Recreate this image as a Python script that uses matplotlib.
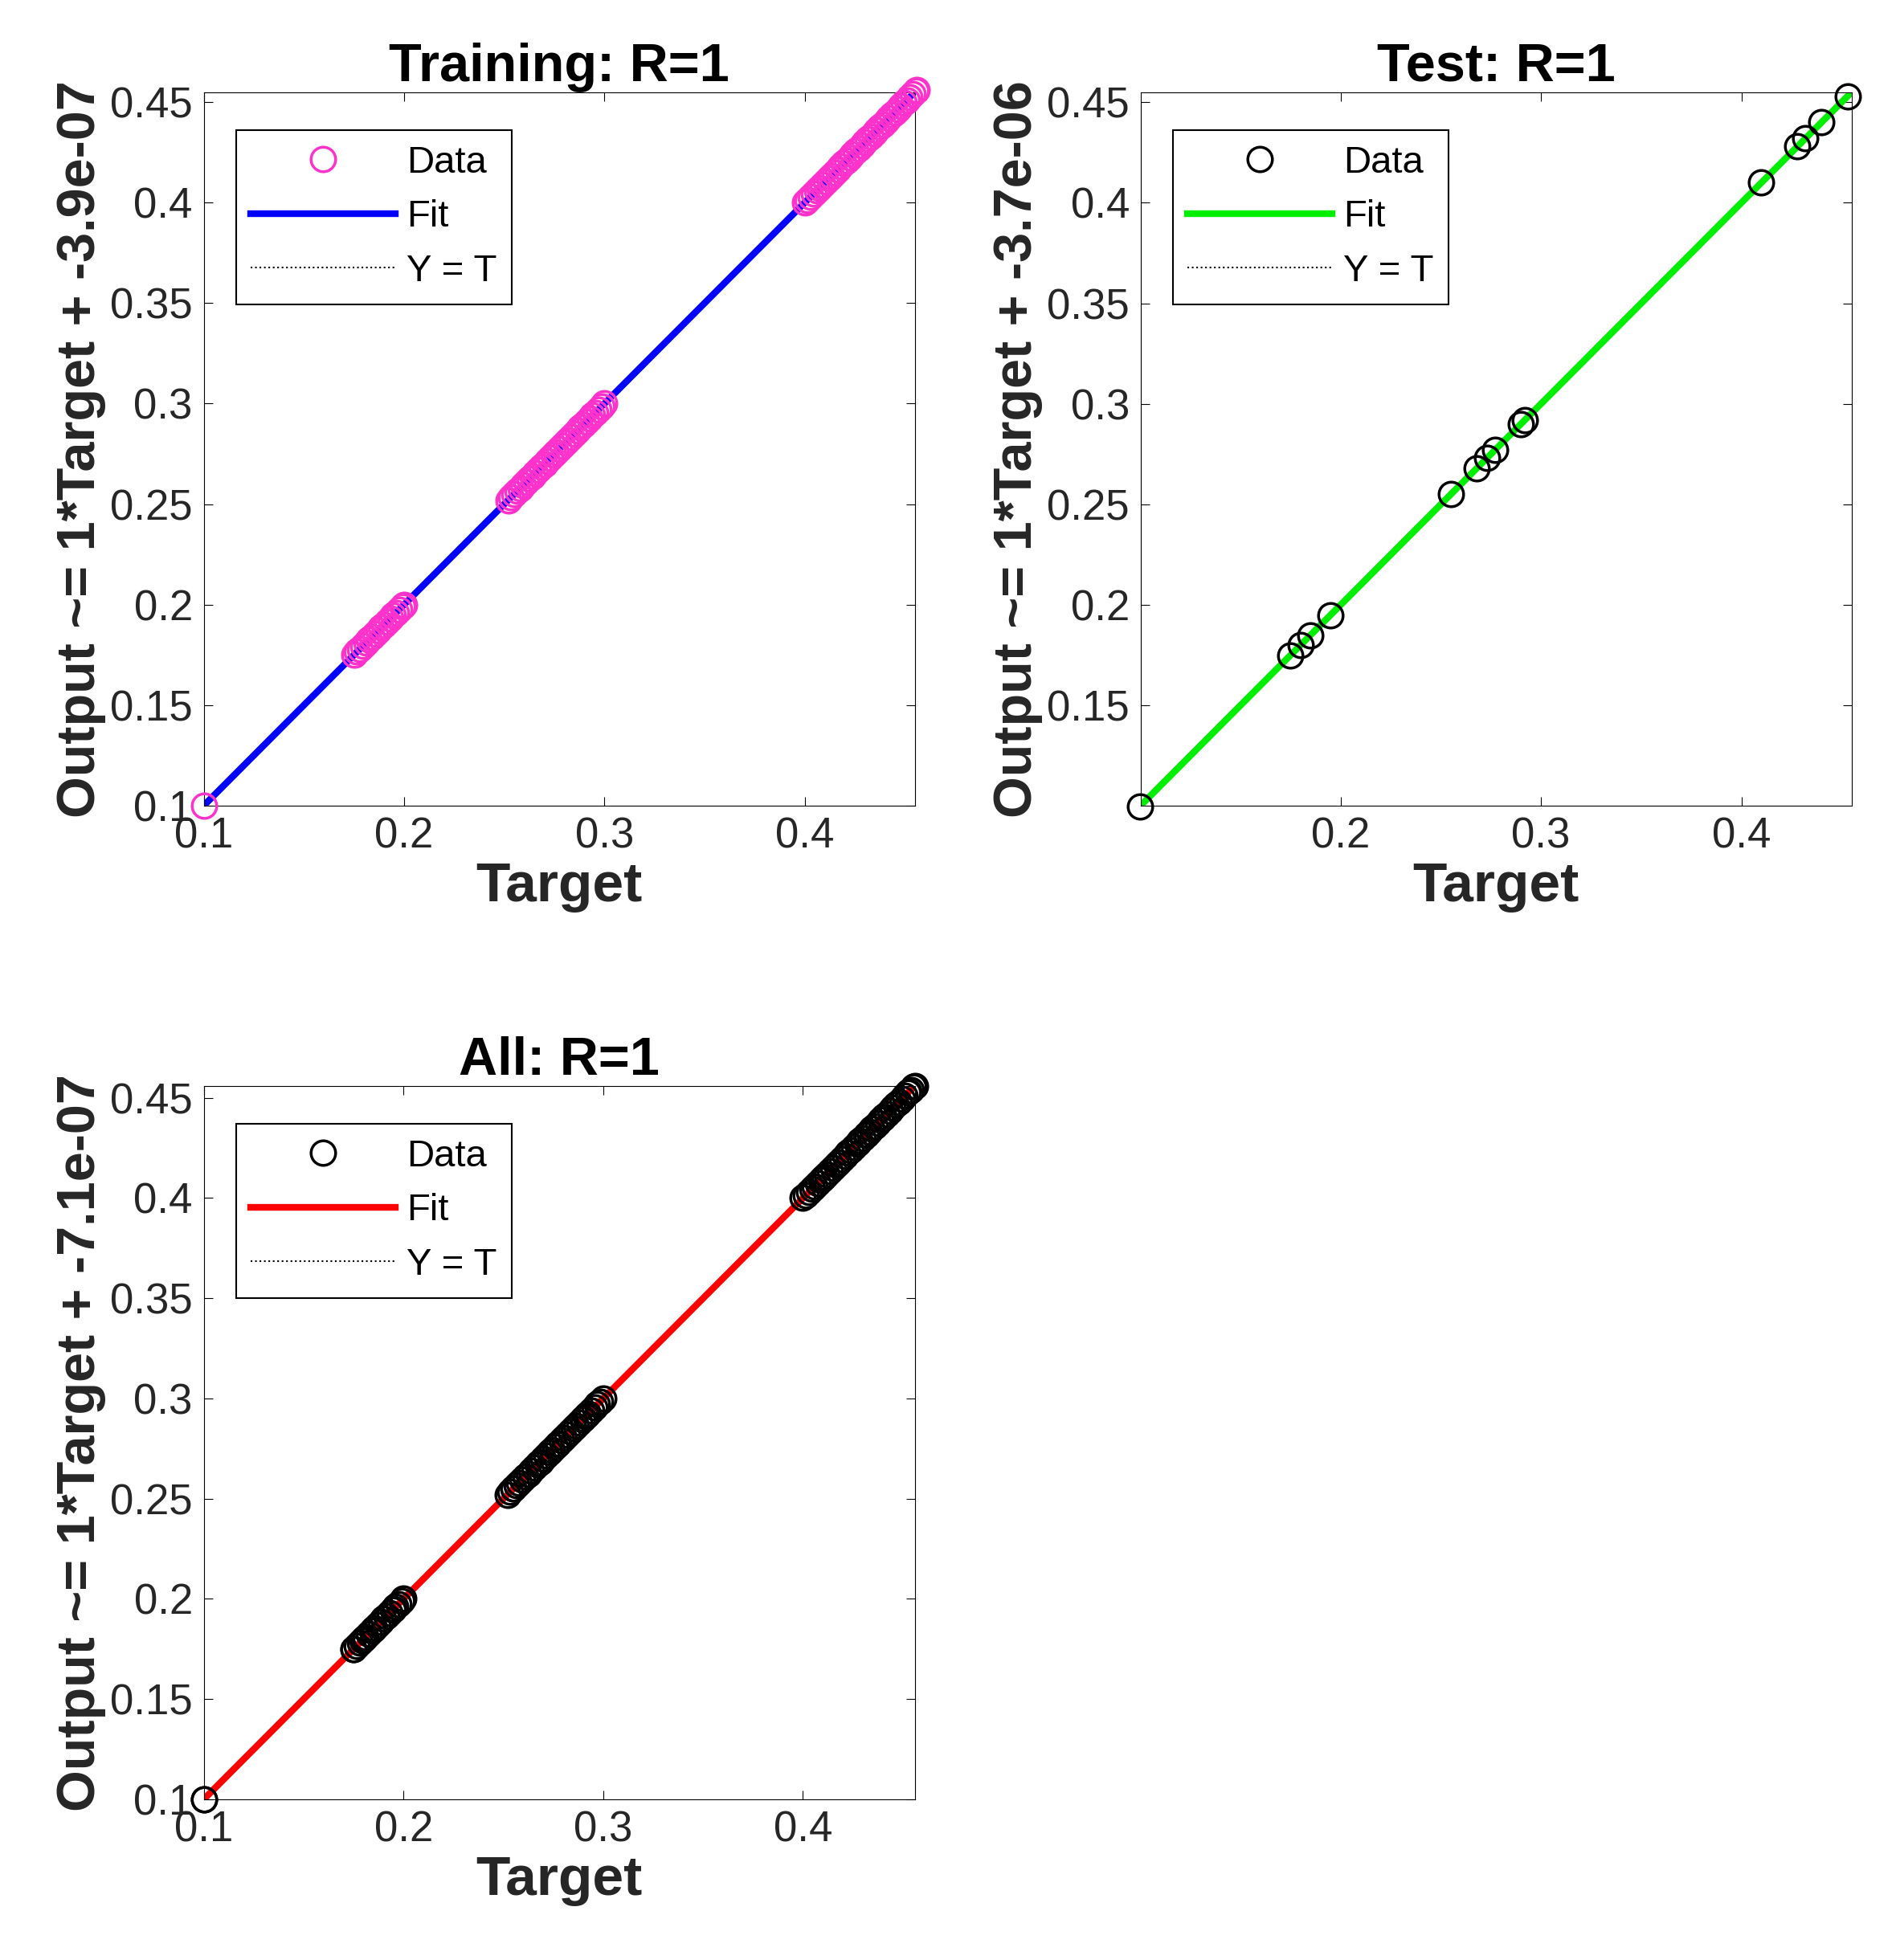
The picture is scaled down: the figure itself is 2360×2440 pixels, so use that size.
import matplotlib.pyplot as plt

plt.rcParams['font.family'] = ['Arial', 'Liberation Sans', 'DejaVu Sans']

# training targets (dense bands)
train_t = [0.100,
           0.175, 0.1765, 0.178, 0.1795, 0.181, 0.1825, 0.184, 0.1855, 0.187, 0.1885,
           0.190, 0.1915, 0.193, 0.1945, 0.196, 0.1975, 0.199, 0.200,
           0.252, 0.2535, 0.255, 0.2565, 0.258, 0.2595, 0.261, 0.2625, 0.264, 0.2655,
           0.267, 0.2685, 0.270, 0.2715, 0.273, 0.2745, 0.276, 0.2775, 0.279, 0.2805,
           0.282, 0.2835, 0.285, 0.2865, 0.288, 0.2895, 0.291, 0.2925, 0.294, 0.2955,
           0.297, 0.2985, 0.300,
           0.400, 0.4015, 0.403, 0.4045, 0.406, 0.4075, 0.409, 0.4105, 0.412, 0.4135,
           0.415, 0.4165, 0.418, 0.4195, 0.421, 0.4225, 0.424, 0.4255, 0.427, 0.4285,
           0.430, 0.4315, 0.433, 0.4345, 0.436, 0.4375, 0.439, 0.4405, 0.442, 0.4435,
           0.445, 0.4465, 0.448, 0.4495, 0.451, 0.4525, 0.454, 0.4555, 0.456]
test_t = [0.100, 0.175, 0.180, 0.185, 0.195, 0.255, 0.268, 0.273, 0.277,
          0.290, 0.292, 0.410, 0.428, 0.432, 0.440, 0.453]
all_t = sorted(train_t + test_t)

panels = [
    dict(t=train_t, title='Training: R=1', off='-3.9e-07', mc='#FF33CC', lc='#0000FF',
         rect=[0.1075, 0.589, 0.375, 0.364], xlim=(0.1, 0.455),
         xt=[0.1, 0.2, 0.3, 0.4], yt=[0.1, 0.15, 0.2, 0.25, 0.3, 0.35, 0.4, 0.45]),
    dict(t=test_t, title='Test: R=1', off='-3.7e-06', mc='black', lc='#00EE00',
         rect=[0.6016, 0.589, 0.375, 0.364], xlim=(0.1003, 0.455),
         xt=[0.2, 0.3, 0.4], yt=[0.15, 0.2, 0.25, 0.3, 0.35, 0.4, 0.45]),
    dict(t=all_t, title='All: R=1', off='-7.1e-07', mc='black', lc='#FF0000',
         rect=[0.1075, 0.082, 0.375, 0.364], xlim=(0.1, 0.456),
         xt=[0.1, 0.2, 0.3, 0.4], yt=[0.1, 0.15, 0.2, 0.25, 0.3, 0.35, 0.4, 0.45]),
]

fig = plt.figure(figsize=(23.6, 24.4), dpi=100)
for p in panels:
    ax = fig.add_axes(p['rect'])
    lo, hi = p['xlim']
    ax.plot(p['t'], p['t'], 'o', mfc='none', mec=p['mc'], ms=22, mew=2.5, label='Data',
            zorder=3, clip_on=False)
    ax.plot([lo, hi], [lo, hi], '-', color=p['lc'], lw=6, label='Fit', zorder=2)
    ax.plot([lo, hi], [lo, hi], ':', color='black', lw=1.5, label='Y = T', zorder=1)
    ax.set_xlim(lo, hi)
    ax.set_ylim(lo, hi)
    ax.set_xticks(p['xt'])
    ax.set_xticklabels([f'{v:g}' for v in p['xt']])
    ax.set_yticks(p['yt'])
    ax.set_yticklabels([f'{v:g}' for v in p['yt']])
    ax.tick_params(direction='in', top=True, right=True, labelsize=38, length=8, pad=10,
                   labelcolor='#262626')
    ax.set_title(p['title'], fontsize=48, fontweight='bold', pad=10)
    ax.set_xlabel('Target', fontsize=50, fontweight='bold', color='#262626')
    ax.set_ylabel('Output ~= 1*Target + ' + p['off'], fontsize=48, fontweight='bold',
                  color='#262626')
    leg = ax.legend(loc='upper left', fontsize=34, fancybox=False, edgecolor='black',
                    handlelength=3.8, handletextpad=0.3, borderaxespad=0.0,
                    bbox_to_anchor=(0.045, 0.947), framealpha=1)
    leg.get_frame().set_linewidth(1.5)

fig.savefig('out.png', dpi=100, facecolor='white')
